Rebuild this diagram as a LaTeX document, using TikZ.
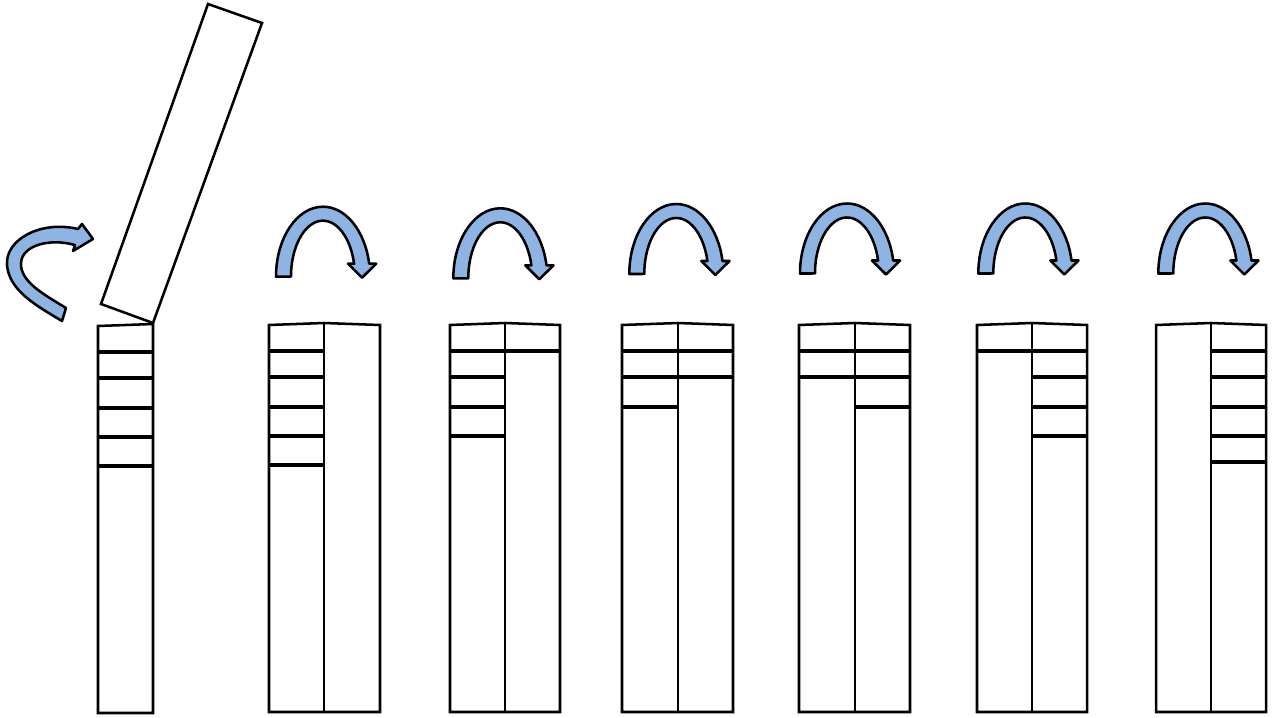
\documentclass[tikz,border=0pt]{standalone}
\definecolor{arrowblue}{HTML}{8DB4E2}
\tikzset{
  box/.style={line width=1.9pt, line join=miter},
  divider/.style={line width=2.4pt},
  bluearrow/.style={fill=arrowblue, draw=black, line width=1.9pt, line join=round}
}
\newcommand{\uarrow}[2]{%
  \draw[bluearrow] ({#1-47},#2) arc[start angle=180,end angle=349.3,x radius=47,y radius=70]
    -- ++(7,0) -- ({#1+39},{#2+1}) -- ({#1+25},{#2-13}) -- ({#1+31.1},{#2-13})
    arc[start angle=346.6,end angle=180,x radius=32,y radius=56] -- cycle;}
\newcommand{\dualcol}[3]{%
  \draw[box] (#1,712) -- (#1,325) -- (#2,323) -- (#3,325) -- (#3,712) -- cycle;
  \draw[box] (#2,323) -- (#2,712);}
\begin{document}
\begin{tikzpicture}[x=0.75pt,y=-0.75pt]
\useasboundingbox (0,0) rectangle (1273,717);
% tilted lid
\draw[box] (208,4) -- (262,23) -- (153,323) -- (101,304) -- cycle;
% left curved arrow
\draw[bluearrow] (78,229) .. controls (40,220) and (5,240) .. (7,265)
  .. controls (9,290) and (35,305) .. (62,321) -- (66,308)
  .. controls (45,295) and (20,282) .. (21,263)
  .. controls (22,245) and (50,238) .. (75,245)
  -- (73,251) -- (93,239) -- (82,224) -- cycle;
% column 1
\draw[box] (98,713) -- (98,326) -- (153,324) -- (153,713) -- cycle;
\foreach \yy in {352,378,408,437,466} \draw[divider] (98,\yy) -- (153,\yy);
% column 2
\dualcol{269}{324}{380}
\foreach \yy in {351,377,407,436,465} \draw[divider] (269,\yy) -- (324,\yy);
% column 3
\dualcol{450}{505}{560}
\foreach \yy in {351,377,407,436} \draw[divider] (450,\yy) -- (505,\yy);
\draw[divider] (505,351) -- (560,351);
% column 4
\dualcol{622}{678}{733}
\foreach \yy in {351,377,407} \draw[divider] (622,\yy) -- (678,\yy);
\foreach \yy in {351,377} \draw[divider] (678,\yy) -- (733,\yy);
% column 5
\dualcol{799}{855}{910}
\foreach \yy in {351,377} \draw[divider] (799,\yy) -- (855,\yy);
\foreach \yy in {351,377,407} \draw[divider] (855,\yy) -- (910,\yy);
% column 6
\dualcol{977}{1032}{1087}
\draw[divider] (977,351) -- (1032,351);
\foreach \yy in {351,377,407,436} \draw[divider] (1032,\yy) -- (1087,\yy);
% column 7
\dualcol{1156}{1211}{1266}
\foreach \yy in {351,377,407,436,462} \draw[divider] (1211,\yy) -- (1266,\yy);
% U arrows
\uarrow{323}{276.7}
\uarrow{500.3}{278.3}
\uarrow{676.3}{274}
\uarrow{847}{273.5}
\uarrow{1025.3}{273.5}
\uarrow{1205.3}{273.5}
\end{tikzpicture}
\end{document}
